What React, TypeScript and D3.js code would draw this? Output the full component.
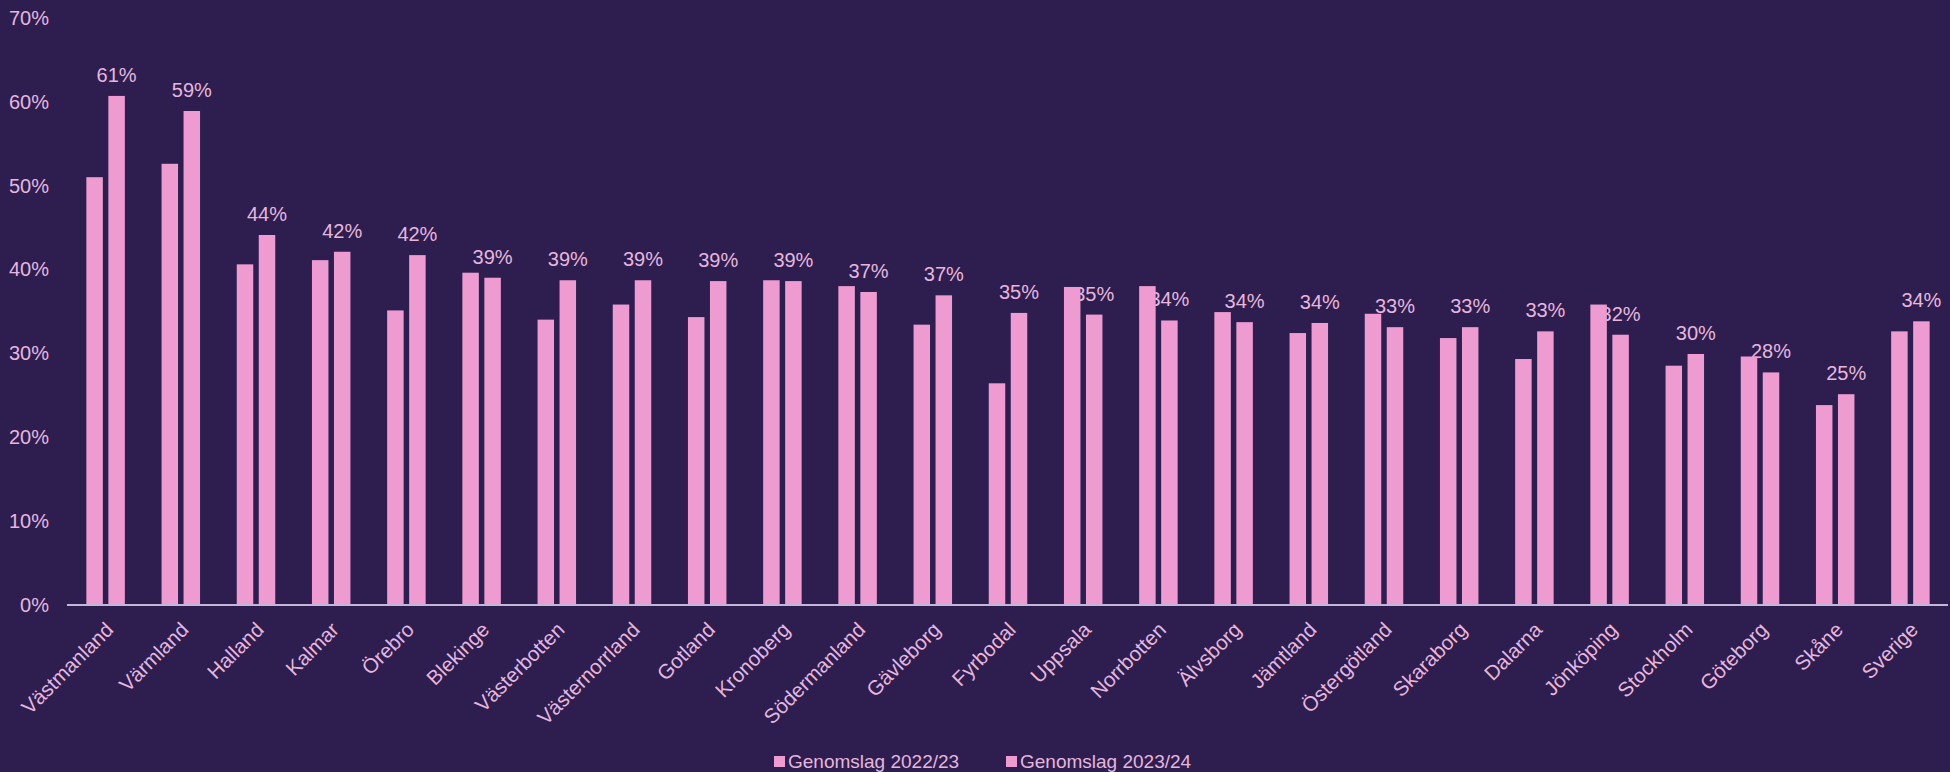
import React from "react";
import * as d3 from "d3";

const categories = [
  "Västmanland", "Värmland", "Halland", "Kalmar", "Örebro", "Blekinge",
  "Västerbotten", "Västernorrland", "Gotland", "Kronoberg", "Södermanland",
  "Gävleborg", "Fyrbodal", "Uppsala", "Norrbotten", "Älvsborg", "Jämtland",
  "Östergötland", "Skaraborg", "Dalarna", "Jönköping", "Stockholm",
  "Göteborg", "Skåne", "Sverige",
];

const series2223 = [
  51.0, 52.6, 40.6, 41.1, 35.1, 39.6, 34.0, 35.8, 34.3, 38.7, 38.0, 33.4,
  26.4, 37.9, 38.0, 34.9, 32.4, 34.7, 31.8, 29.3, 35.8, 28.5, 29.6, 23.8, 32.6,
];

const series2324 = [
  60.7, 58.9, 44.1, 42.1, 41.7, 39.0, 38.7, 38.7, 38.6, 38.6, 37.3, 36.9,
  34.8, 34.6, 33.9, 33.7, 33.6, 33.1, 33.1, 32.6, 32.2, 29.9, 27.7, 25.1, 33.8,
];

const seriesNames = ["Genomslag 2022/23", "Genomslag 2023/24"];
const yTicks = [0, 10, 20, 30, 40, 50, 60, 70];

const W = 1950;
const H = 772;
const BG = "#2d1e4f";
const BAR = "#ee9bd1";
const TXT = "#e7b6de";
const FONT = "'Liberation Sans', Arial, sans-serif";

export default function App() {
  const x0 = d3.scaleBand<string>().domain(categories).range([68, 1948]).paddingInner(0).paddingOuter(0);
  const x1 = d3.scaleBand<string>().domain(seriesNames).range([0, 38.5]).paddingInner(0.25).paddingOuter(0);
  const y = d3.scaleLinear().domain([0, 70]).range([604.5, 18]);
  const groupOffset = (x0.bandwidth() - 38.5) / 2;
  const data = [series2223, series2324];

  return (
    <div style={{ position: "absolute", left: 0, top: 0, width: W, height: H }}>
      <svg width={W} height={H} style={{ display: "block", background: BG }} fontFamily={FONT}>
        <rect x={0} y={0} width={W} height={H} fill={BG} />
        {yTicks.map((t) => (
          <text key={t} x={49} y={y(t)} dy="0.35em" textAnchor="end" fontSize={20} fill={TXT}>
            {d3.format(".0f")(t) + "%"}
          </text>
        ))}
        {categories.map((c, i) => {
          const bx = (x0(c) as number) + groupOffset + (x1(seriesNames[1]) as number) + x1.bandwidth() / 2;
          return (
            <text key={"l" + c} x={bx} y={y(series2324[i]) - 14} textAnchor="middle" fontSize={20} fill={TXT}>
              {Math.round(series2324[i]) + "%"}
            </text>
          );
        })}
        {data.map((vals, s) =>
          categories.map((c, i) => {
            const bx = (x0(c) as number) + groupOffset + (x1(seriesNames[s]) as number);
            return (
              <rect
                key={s + c}
                x={bx}
                y={y(vals[i])}
                width={x1.bandwidth()}
                height={y(0) - y(vals[i])}
                fill={BAR}
              />
            );
          })
        )}
        <line x1={67} x2={1948} y1={605} y2={605} stroke="#c3b6d6" strokeWidth={2} />
        {categories.map((c) => {
          const cx = (x0(c) as number) + x0.bandwidth() / 2;
          return (
            <text
              key={"x" + c}
              transform={`translate(${cx + 9},${631}) rotate(-45)`}
              textAnchor="end"
              fontSize={20.5}
              fill={TXT}
            >
              {c}
            </text>
          );
        })}
        {seriesNames.map((n, s) => {
          const lx = s === 0 ? 774 : 1006;
          return (
            <g key={n}>
              <rect x={lx} y={756} width={11} height={11} fill={BAR} />
              <text x={lx + 14} y={768} fontSize={19} fill={TXT}>
                {n}
              </text>
            </g>
          );
        })}
      </svg>
    </div>
  );
}
